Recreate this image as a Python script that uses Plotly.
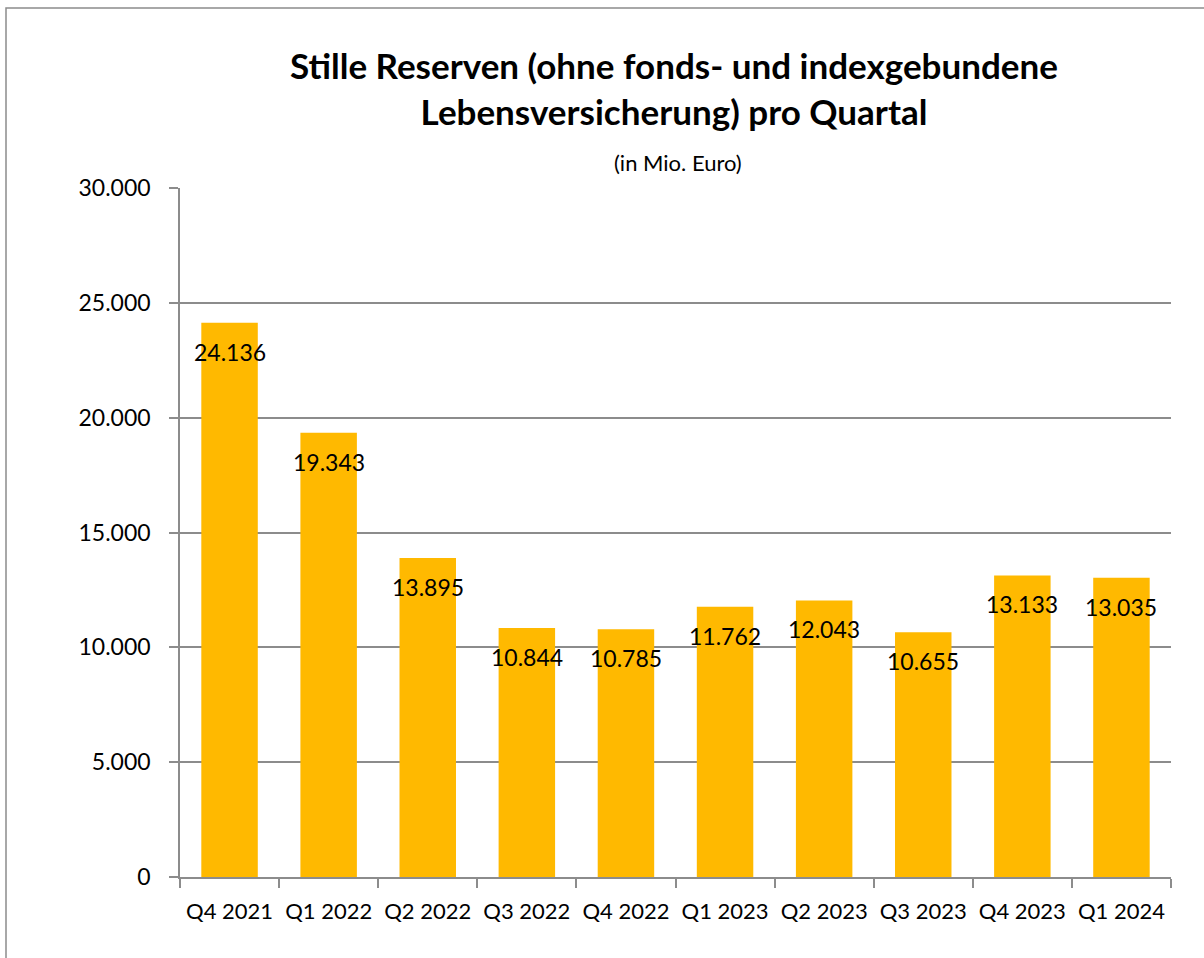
import plotly.graph_objects as go

categories = ["Q4 2021", "Q1 2022", "Q2 2022", "Q3 2022", "Q4 2022",
              "Q1 2023", "Q2 2023", "Q3 2023", "Q4 2023", "Q1 2024"]
values = [24136, 19343, 13895, 10844, 10785, 11762, 12043, 10655, 13133, 13035]
labels = ["24.136", "19.343", "13.895", "10.844", "10.785",
          "11.762", "12.043", "10.655", "13.133", "13.035"]
tick_vals = [0, 5000, 10000, 15000, 20000, 25000, 30000]
tick_text = ["0", "5.000", "10.000", "15.000", "20.000", "25.000", "30.000"]

FONT = "Lato"
BAR = "#FFB900"
GRID = "#8C8C8C"

fig = go.Figure()
fig.add_trace(go.Bar(x=categories, y=values, marker=dict(color=BAR, line=dict(width=0)),
                     width=0.57, hoverinfo="x+y"))

for c, v, t in zip(categories, values, labels):
    fig.add_annotation(x=c, y=v, text=t, showarrow=False, yanchor="middle",
                       yshift=-29, font=dict(family=FONT, size=23, color="black"))

L, R, T, B = 180, 33, 188, 81
W, H = 1204, 958
pw = W - L - R
ph = H - T - B

# outer frame
fig.add_shape(type="rect", xref="paper", yref="paper",
              x0=(6 - L) / pw, x1=(W + 10 - L) / pw,
              y0=-(H + 10 - (H - B)) / ph, y1=((H - B) - 8) / ph,
              line=dict(color=GRID, width=1.5), fillcolor="rgba(0,0,0,0)", layer="below")

fig.add_annotation(xref="paper", yref="paper", x=(678 - L) / pw, y=((H - B) - 162) / ph,
                   text="(in Mio. Euro)", showarrow=False, yanchor="middle",
                   font=dict(family=FONT, size=22, color="black"))

fig.update_layout(
    width=W, height=H,
    margin=dict(l=L, r=R, t=T, b=B),
    paper_bgcolor="white", plot_bgcolor="white",
    showlegend=False,
    title=dict(text="<b>Stille Reserven (ohne fonds- und indexgebundene<br>Lebensversicherung) pro Quartal</b>",
               x=674 / W, xanchor="center", y=1 - 79 / H, yanchor="middle",
               font=dict(family=FONT, size=35, color="black")),
    font=dict(family=FONT, color="black"),
)
fig.update_xaxes(showline=True, linecolor=GRID, linewidth=1.5, ticks="outside",
                 ticklen=9, tickcolor=GRID, tickwidth=1.5, tickson="boundaries",
                 ticklabelstandoff=14,
                 tickfont=dict(family=FONT, size=22, color="black"), showgrid=False)
fig.update_yaxes(range=[0, 30000], tickvals=tick_vals, ticktext=tick_text,
                 showline=True, linecolor=GRID, linewidth=1.5, ticks="outside",
                 ticklen=9, tickcolor=GRID, tickwidth=1.5, ticklabelstandoff=14,
                 showgrid=True, gridcolor=GRID, gridwidth=1.5, zeroline=False,
                 tickfont=dict(family=FONT, size=23, color="black"))

fig.write_html("out.html", config={"displayModeBar": False},
               post_script="document.body.style.margin='0';")
